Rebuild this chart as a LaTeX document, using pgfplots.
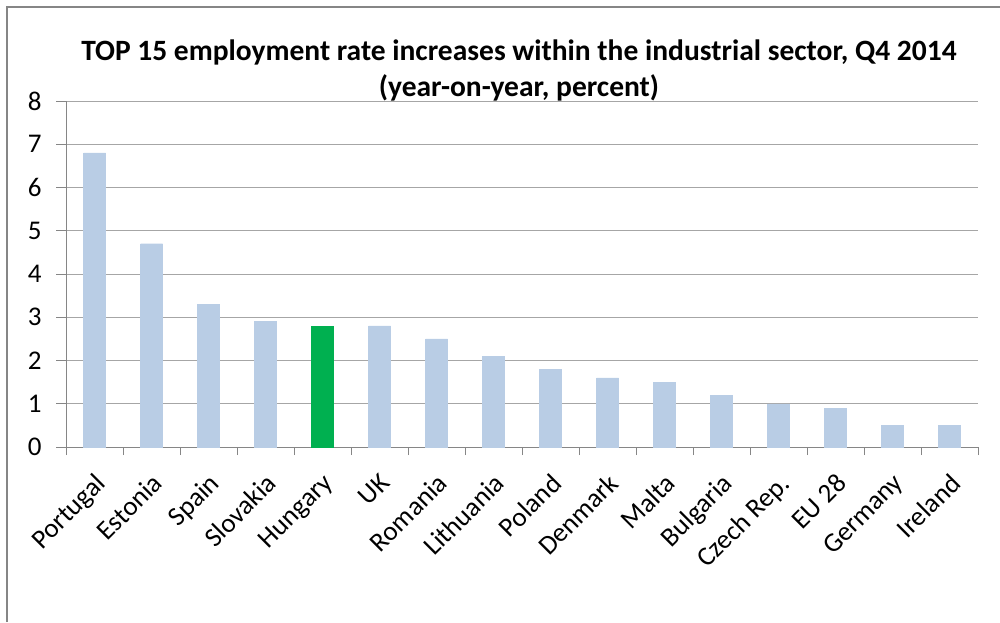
\documentclass[border=0pt]{standalone}
\usepackage{pgfplots}
\pgfplotsset{compat=1.18}
\usepackage{fontspec}
\setmainfont{Carlito}
\definecolor{barblue}{HTML}{B9CDE5}
\definecolor{bargreen}{HTML}{00B050}
\definecolor{gridgray}{HTML}{A6A6A6}
\definecolor{axisgray}{HTML}{868686}
\begin{document}
\begin{tikzpicture}[x=1pt,y=1pt]
\useasboundingbox (0,0) rectangle (1000,622);
\draw[color=axisgray, line width=1.5pt] (7,0) -- (7,615) -- (1000,615);
\node[font=\bfseries\fontsize{29.5}{36}\selectfont, align=center, anchor=center] at (519,552) {TOP 15 employment rate increases within the industrial sector, Q4 2014\\(year-on-year, percent)};
\begin{axis}[
  at={(66pt,175pt)}, anchor=south west,
  scale only axis, width=912pt, height=346pt,
  xmin=-0.5, xmax=15.5, ymin=0, ymax=8,
  axis lines=left, axis line style={-, color=axisgray, line width=1pt},
  ytick={0,1,...,8},
  ymajorgrids, grid style={color=gridgray, line width=1pt},
  xtick={0,...,15},
  xticklabels={Portugal,Estonia,Spain,Slovakia,Hungary,UK,Romania,Lithuania,Poland,Denmark,Malta,Bulgaria,Czech Rep.,EU 28,Germany,Ireland},
  minor xtick={-0.5,0.5,...,15.5},
  major x tick style={draw=none},
  tick align=outside,
  major tick length=10pt, minor tick length=8pt,
  tick style={color=axisgray, line width=1pt},
  xticklabel style={rotate=45, anchor=north east, font=\fontsize{27}{32}\selectfont, inner sep=1pt, xshift=-10pt, yshift=-9pt},
  yticklabel style={font=\fontsize{27}{32}\selectfont, xshift=-11pt},
  /pgf/number format/assume math mode=true,
  ybar, bar width=22pt,
]
\addplot[fill=barblue, draw=barblue, bar shift=0pt] coordinates {
(0,6.8) (1,4.7) (2,3.3) (3,2.9) (5,2.8) (6,2.5) (7,2.1) (8,1.8) (9,1.6) (10,1.5) (11,1.2) (12,1.0) (13,0.9) (14,0.5) (15,0.5)};
\addplot[fill=bargreen, draw=bargreen, bar shift=0pt] coordinates {(4,2.8)};
\end{axis}
\end{tikzpicture}
\end{document}
